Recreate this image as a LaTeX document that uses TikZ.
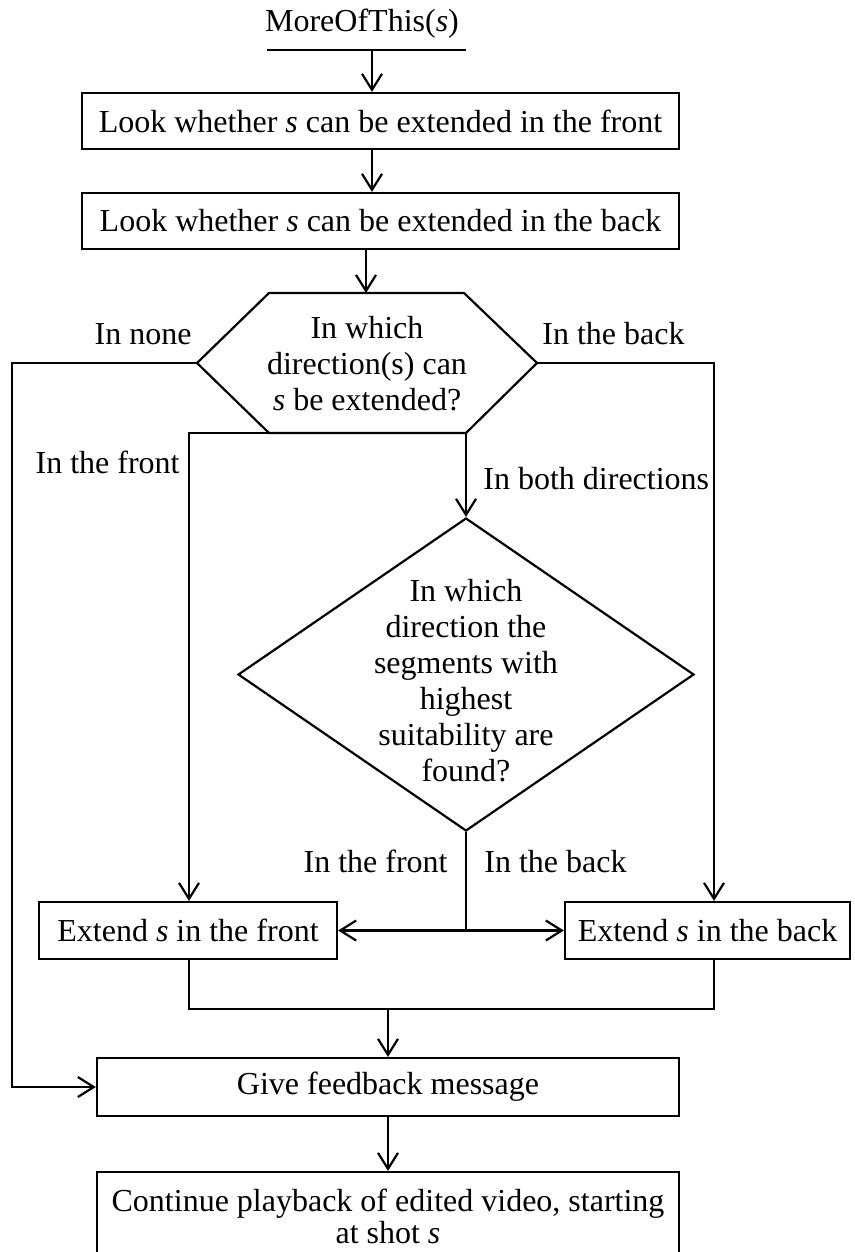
\documentclass[tikz,border=0pt]{standalone}
\usepackage{fontspec}
\setmainfont{Liberation Serif}
\usetikzlibrary{arrows.meta,calc,shapes.geometric}
\begin{document}
\begin{tikzpicture}[x=0.5pt,y=-0.5pt,
  every node/.style={font=\fontsize{16}{18}\selectfont},
  box/.style={draw, line width=1.1pt, inner sep=0pt, align=center},
  lbl/.style={inner sep=0pt},
  ln/.style={line width=1.1pt},
  arr/.style={line width=1.1pt, -{Straight Barb[length=8pt,width=10pt]}}]
\useasboundingbox (0,0) rectangle (855,1252);
\clip (0,0) rectangle (855,1252);

% title
\node[lbl, anchor=base] (title) at (362,32) {MoreOfThis(\textit{s})};
\coordinate (ulL) at (267,50);
\coordinate (ulR) at (466,50);
\draw[ln] (ulL) -- (ulR);

% first boxes
\node[box, minimum width=298.5pt, minimum height=28pt] (b1) at (380.5,121) {Look whether \textit{s} can be extended in the front};
\node[box, minimum width=298.5pt, minimum height=28pt] (b2) at (380.5,221) {Look whether \textit{s} can be extended in the back};
\coordinate (ax) at (372,0);
\draw[arr] (ulL -| ax) -- (b1.north -| ax);
\draw[arr] (b1.south -| ax) -- (b2.north -| ax);

% hexagon
\coordinate (hT) at (366,293);
\coordinate (hTL) at (269,293);
\coordinate (hTR) at (464,293);
\coordinate (hR) at (537,363);
\coordinate (hBR) at (466,433);
\coordinate (hBL) at (269,433);
\coordinate (hL) at (197,363);
\draw[ln, line join=miter] (hTL) -- (hTR) -- (hR) -- (hBR) -- (hBL) -- (hL) -- cycle;
\node[lbl, align=center] (hex) at (367,364) {In which\\direction(s) can\\\textit{s} be extended?};
\draw[arr] (b2.south -| hT) -- (hT);

% diamond
\node[diamond, draw, line width=1.1pt, minimum width=228pt, minimum height=156.5pt, inner sep=0pt] (dia) at (466,674.5) {};
\node[lbl, align=center] (diat) at (466,681) {In which\\direction the\\segments with\\highest\\suitability are\\found?};
\draw[arr] (hBR) -- (dia.north);

% extend boxes
\node[box, minimum width=149pt, minimum height=28.5pt] (front) at (188,930.5) {Extend \textit{s} in the front};
\node[box, minimum width=142.5pt, minimum height=28.5pt] (back) at (707.5,930.5) {Extend \textit{s} in the back};

% feedback and final
\node[box, minimum width=291pt, minimum height=29pt] (fb) at (388,1087) {Give feedback message};
\node[box, minimum width=291pt, minimum height=44pt] (fin) at (388,1216) {Continue playback of edited video, starting\\[-2pt]at shot \textit{s}};

% connectors
\coordinate (lx) at (12,0);
\coordinate (rx) at (714,0);
\coordinate (fx) at (189,0);
\draw[arr] (hL) -- (hL -| lx) -- (fb.west -| lx) -- (fb.west);
\draw[arr] (hR) -- (hR -| rx) -- (back.north -| rx);
\draw[arr] (hBL) -- (hBL -| fx) -- (front.north -| fx);
\coordinate (split) at (466,930.5);
\draw[ln] (dia.south) -- (split);
\draw[arr] (split) -- (front.east);
\draw[arr] (split) -- (back.west);
\coordinate (mx) at (388,1009);
\draw[ln] (front.south -| fx) -- (fx |- mx) -- (rx |- mx) -- (back.south -| rx);
\draw[arr] (mx) -- (fb.north);
\draw[arr] (fb.south) -- (fin.north);

% labels
\node[lbl, anchor=base east] (l1) at (192,344) {In none};
\node[lbl, anchor=base west] (l2) at (542,344) {In the back};
\node[lbl, anchor=base east] (l3) at (180,473) {In the front};
\node[lbl, anchor=base west] (l4) at (483,489) {In both directions};
\node[lbl, anchor=base east] (l5) at (448,872) {In the front};
\node[lbl, anchor=base west] (l6) at (484,872) {In the back};
\end{tikzpicture}
\end{document}
